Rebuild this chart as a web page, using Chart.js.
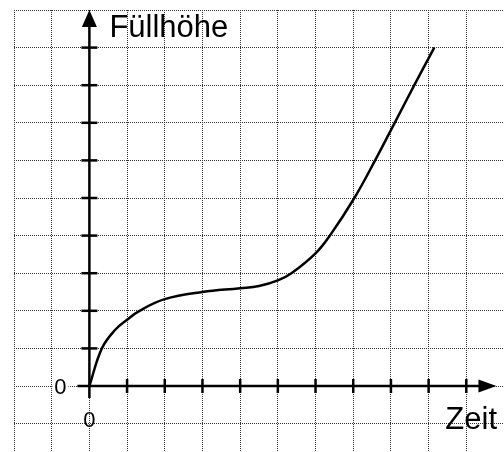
<!DOCTYPE html>
<html>
<head>
<meta charset="utf-8">
<script src="https://cdn.jsdelivr.net/npm/chart.js@4.4.0/dist/chart.umd.min.js"></script>
<style>
    body { margin: 0; background: #fff; }
    #wrap { width: 504px; height: 452px; }
</style>
</head>
<body>
<div id="wrap"><canvas id="fuellChart" width="504" height="452"></canvas></div>
<script>
// Werte der Kurve (in Kästchen ab dem Ursprung)
const zeitWerte = [0, 0.33, 0.68, 1.0, 1.33, 2.0, 3.0, 4.0, 4.5, 5.0, 5.36, 6.0, 6.38, 7.03, 7.58, 8.1, 8.62, 9.15];
const hoeheWerte = [0, 1.0, 1.49, 1.76, 2.0, 2.31, 2.5, 2.6, 2.66, 2.81, 3.0, 3.53, 4.0, 5.0, 6.0, 7.0, 8.0, 9.0];

// Markierungen auf den Achsen
const xMarken = [1, 2, 3, 4, 5, 6, 7, 8, 9, 10];
const yMarken = [1, 2, 3, 4, 5, 6, 7, 8, 9];

const yTitel = 'Füllhöhe';
const xTitel = 'Zeit';
const nullText = '0';

const punkte = zeitWerte.map((x, i) => ({ x: x, y: hoeheWerte[i] }));

// Achsen mit Pfeilen, Markierungen und Beschriftung
const achsenPlugin = {
    id: 'achsen',
    beforeDatasetsDraw(chart) {
        const ctx = chart.ctx;
        const xs = chart.scales.x, ys = chart.scales.y;
        const x0 = xs.getPixelForValue(0);
        const y0 = ys.getPixelForValue(0);
        ctx.save();
        ctx.strokeStyle = '#000';
        ctx.fillStyle = '#000';
        ctx.lineWidth = 2.5;

        // y-Achse
        ctx.beginPath();
        ctx.moveTo(x0, y0 + 12);
        ctx.lineTo(x0, ys.getPixelForValue(10) + 16);
        ctx.stroke();
        ctx.beginPath();
        const yTop = ys.getPixelForValue(10);
        ctx.moveTo(x0, yTop);
        ctx.lineTo(x0 - 7.5, yTop + 17);
        ctx.lineTo(x0 + 7.5, yTop + 17);
        ctx.closePath();
        ctx.fill();

        // x-Achse
        const xEnd = xs.getPixelForValue(10.8);
        ctx.beginPath();
        ctx.moveTo(x0 - 12, y0);
        ctx.lineTo(xEnd - 16, y0);
        ctx.stroke();
        ctx.beginPath();
        ctx.moveTo(xEnd, y0);
        ctx.lineTo(xEnd - 18, y0 - 6.5);
        ctx.lineTo(xEnd - 18, y0 + 6.5);
        ctx.closePath();
        ctx.fill();

        // Markierungen
        yMarken.forEach(v => {
            const py = ys.getPixelForValue(v);
            ctx.beginPath();
            ctx.moveTo(x0 - 8, py);
            ctx.lineTo(x0 + 8, py);
            ctx.stroke();
        });
        xMarken.forEach(v => {
            const px = xs.getPixelForValue(v);
            ctx.beginPath();
            ctx.moveTo(px, y0 - 7);
            ctx.lineTo(px, y0 + 7);
            ctx.stroke();
        });
        ctx.restore();
    },
    afterDraw(chart) {
        const ctx = chart.ctx;
        const xs = chart.scales.x, ys = chart.scales.y;
        const x0 = xs.getPixelForValue(0);
        const y0 = ys.getPixelForValue(0);
        ctx.save();
        ctx.fillStyle = '#000';
        ctx.textBaseline = 'alphabetic';

        ctx.font = '31px "Liberation Sans", Arial, sans-serif';
        ctx.textAlign = 'left';
        ctx.fillText(yTitel, x0 + 20, ys.getPixelForValue(10) + 27);
        ctx.textAlign = 'right';
        ctx.fillText(xTitel, 497, y0 + 43);

        // Nullpunkte
        ctx.font = '22px "Liberation Sans", Arial, sans-serif';
        ctx.fillStyle = '#fff';
        ctx.fillRect(x0 - 37, y0 - 9, 16, 18);
        ctx.fillStyle = '#000';
        ctx.textAlign = 'center';
        ctx.fillText(nullText, x0 - 29, y0 + 8);
        ctx.fillText(nullText, x0, y0 + 41);
        ctx.restore();
    }
};

new Chart(document.getElementById('fuellChart'), {
    type: 'scatter',
    data: {
        datasets: [{
            data: punkte,
            showLine: true,
            borderColor: '#000',
            borderWidth: 2.5,
            pointRadius: 0,
            tension: 0.4,
            fill: false
        }]
    },
    options: {
        responsive: false,
        animation: false,
        events: [],
        layout: { padding: { left: 14, top: 10, right: 0, bottom: 0 } },
        plugins: { legend: { display: false }, tooltip: { enabled: false } },
        scales: {
            x: {
                type: 'linear',
                min: -2,
                max: 11,
                ticks: { display: false, stepSize: 1, includeBounds: false, padding: 0 },
                grid: { color: '#333', lineWidth: 1, drawTicks: false },
                border: { display: false, dash: [1, 1] }
            },
            y: {
                type: 'linear',
                min: -1.755,
                max: 10,
                ticks: { display: false, stepSize: 1, includeBounds: false, padding: 0 },
                grid: { color: '#333', lineWidth: 1, drawTicks: false },
                border: { display: false, dash: [1, 1] }
            }
        }
    },
    plugins: [achsenPlugin]
});
</script>
</body>
</html>
